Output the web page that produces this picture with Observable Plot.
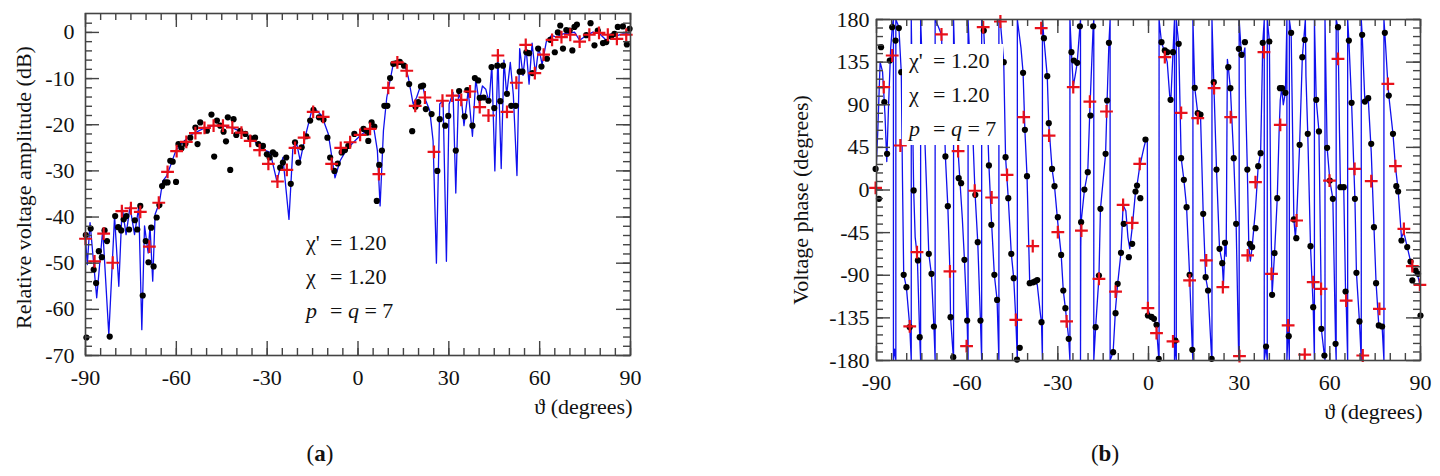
<!DOCTYPE html>
<html><head><meta charset="utf-8">
<script src="https://cdn.jsdelivr.net/npm/d3@7"></script>
<script src="https://cdn.jsdelivr.net/npm/@observablehq/plot@0.6"></script>
<style>
html,body{margin:0;padding:0;background:#fff;}
#wrap{position:relative;width:1440px;height:476px;overflow:hidden;font-family:"Liberation Serif",Tinos,"Times New Roman","DejaVu Serif",serif;color:#111;}
#wrap svg, #wrap svg text{font-family:"Liberation Serif",Tinos,"Times New Roman","DejaVu Serif",serif !important;}
.panel{position:absolute;top:0;}
.legend{position:absolute;font-size:22px;line-height:34px;background:#fff;white-space:nowrap;}
.legend .row{display:flex;}
.legend .k{display:inline-block;width:24px;}
.cap{position:absolute;font-size:23px;transform:translateX(-50%);}
</style></head>
<body><div id="wrap">
<div id="pa" class="panel" style="left:0"></div>
<div id="pb" class="panel" style="left:720px"></div>
<div class="legend" style="left:306px;top:226px;background:transparent">
  <div class="row"><span class="k">χ'</span><span>= 1.20</span></div>
  <div class="row"><span class="k">χ</span><span>= 1.20</span></div>
  <div class="row"><span class="k"><i>p</i></span><span>= <i>q</i> = 7</span></div>
</div>
<div class="legend" style="left:902px;top:44px;width:101px;height:101px;padding-left:7px;box-sizing:border-box;line-height:34px">
  <div class="row"><span class="k">χ'</span><span>= 1.20</span></div>
  <div class="row"><span class="k">χ</span><span>= 1.20</span></div>
  <div class="row"><span class="k"><i>p</i></span><span>= <i>q</i> = 7</span></div>
</div>
<div class="cap" style="left:320px;top:441px">(<b>a</b>)</div>
<div class="cap" style="left:1105px;top:441px">(<b>b</b>)</div>
</div>
<script>
// ---------- Panel (a): relative voltage amplitude (dB) ----------
const ampLine = [[-90.1,-43.8],[-89.4,-50.3],[-88.5,-41.2],[-86.3,-57.5],[-84.3,-42.7],[-82.3,-65.5],[-80.4,-39.8],[-79,-55],[-77.9,-37.8],[-76.6,-43.8],[-75.3,-37.8],[-73.8,-43.8],[-72.4,-37.8],[-71.4,-64.4],[-70.5,-41.9],[-69.3,-47.8],[-68.7,-41.9],[-67.8,-53.9],[-67,-39.4],[-65.6,-36.9],[-64.5,-32.2],[-63.2,-31.1],[-61.8,-28.6],[-60.1,-25.5],[-57.9,-23.8],[-54.6,-22],[-51.3,-20.9],[-48,-20.2],[-44.7,-20.2],[-41.4,-20.7],[-38.1,-21.7],[-34.8,-23.1],[-31.8,-25.3],[-29,-26],[-26.8,-32.2],[-24.8,-27.1],[-22.8,-40.5],[-21.5,-24.9],[-20.2,-24.2],[-19.1,-27.8],[-17.5,-22.8],[-15.3,-17],[-14.2,-16.6],[-12,-18],[-9.8,-22],[-7.6,-31.5],[-5.9,-27.8],[-3.7,-25.3],[-1.5,-23.8],[0.7,-22.4],[4,-20.6],[5.1,-20.2],[6.4,-25.6],[7.3,-37.6],[8.4,-21.3],[9.5,-14.1],[11.65,-6.8],[13.3,-6.1],[15.5,-7.2],[16.6,-9.7],[18.2,-15.5],[19.35,-14.1],[20.8,-11.3],[21.5,-11.9],[22.4,-14.8],[23.7,-16.9],[24.8,-23.5],[25.9,-50],[27,-15.5],[28.1,-14.8],[29.2,-49.6],[30.1,-15.5],[31.4,-13],[32.3,-34.8],[33.2,-13.3],[34.2,-14.8],[35,-20.2],[36.4,-12.6],[37.8,-22.5],[38.9,-10.1],[40,-15.2],[41.1,-11.6],[42.2,-12.3],[43.3,-15.2],[44.2,-7],[45.2,-30],[46.2,-5],[47.3,-29.5],[48.2,-6],[49.1,-13.5],[50.3,-6.5],[51.3,-13.5],[52.5,-31],[53.4,-3.5],[54.5,-9.3],[55.5,-3.2],[56.5,-11.2],[57.5,-2.3],[58.6,-9],[59.7,-3.2],[60.8,-7],[62.2,-2],[63.9,-0.65],[65.5,-1],[67.7,-0.3],[69.9,-0.16],[71.5,0.07],[73.2,-1.7],[75.4,-0.65],[77.6,0.07],[79.8,-0.3],[82,-1.7],[83.6,-0.3],[85.8,-0.65],[87.5,-0.3],[89.5,-0.3],[90,-0.5]];

const ampDots = [[-89.7,-66.1],[-89.9,-43.9],[-88.3,-42.5],[-87.3,-51.4],[-86.5,-54.3],[-85.6,-47.4],[-84.6,-48.7],[-83.7,-42.9],[-82.9,-45.2],[-82,-65.9],[-80.2,-39.8],[-79.2,-42.2],[-78.2,-42.9],[-77.4,-40.5],[-76.5,-39.8],[-75.6,-42.7],[-73.7,-40.7],[-72.9,-42.7],[-71.9,-37.6],[-71.1,-57],[-70.1,-45.2],[-69.2,-49.8],[-68.3,-42.3],[-67.5,-50.7],[-66.5,-40.1],[-65.6,-37.4],[-64.7,-33.3],[-63.7,-32.5],[-62.9,-32.5],[-62,-27.8],[-61.2,-28],[-60.1,-32.4],[-59.3,-24.2],[-58.3,-25.1],[-57,-24.1],[-55.4,-22.8],[-53.7,-20.6],[-53,-24.2],[-52.1,-19.5],[-49.9,-21.3],[-48.4,-17.8],[-47.5,-26.9],[-46.6,-19.1],[-45.5,-20.2],[-44.4,-21.5],[-43.6,-23.6],[-43,-18.4],[-42.2,-29.8],[-41.1,-18.8],[-40.2,-22.2],[-38.9,-21.3],[-37.2,-22],[-35.6,-22.9],[-34,-22.8],[-32.9,-24.2],[-31.4,-24.6],[-30.1,-26.4],[-29.2,-27.1],[-28.1,-26],[-27.3,-26.4],[-25.7,-29.3],[-24.8,-28.2],[-23.7,-27.1],[-22.2,-32.8],[-20.8,-23.8],[-19.7,-28.2],[-18.6,-24.9],[-17.1,-22.5],[-15.8,-19.1],[-14.7,-16.8],[-12.9,-18.4],[-11.4,-18.9],[-10.1,-22.8],[-9.2,-27.1],[-7.8,-30],[-6.7,-28.4],[-5.4,-26],[-4.3,-25.5],[-3.2,-24.6],[-1.2,-22],[1.8,-20.9],[3.1,-21.7],[3.4,-23.5],[4.5,-19.5],[5.4,-20.4],[6.2,-36.5],[7.0,-28.7],[7.9,-25.6],[8.7,-15.9],[9.7,-15.9],[10.6,-9.9],[11.65,-6.8],[12.5,-6.7],[13.8,-6.4],[15.2,-7.2],[16.9,-11.2],[17.9,-21.4],[19,-16.1],[19.9,-15.1],[20.8,-11.7],[21.5,-11.5],[22.4,-16.6],[24.3,-17.7],[26.2,-30],[27,-18.8],[28.8,-20.2],[29.8,-18.1],[32.3,-25.6],[33.4,-12.7],[35.2,-18.2],[36.1,-12.5],[37.8,-20.2],[38.6,-9.9],[39.7,-10.4],[40.2,-14.2],[41.5,-14.1],[43.1,-14.8],[44.1,-7.5],[45,-16.4],[46,-7.2],[47,-14.9],[47.9,-7.2],[49.2,-13.3],[50.6,-15.9],[52.1,-15.9],[53.4,-8.5],[54.3,-8.5],[55.6,-4.3],[56.5,-4.5],[57.6,-8.8],[59.5,-3.5],[60.6,-7.4],[62.4,-5.7],[63.5,-1.6],[65,-4.3],[66,0],[66.8,1.5],[67.7,-3.5],[68.8,0.5],[69.9,0.4],[70.8,-3.9],[71.5,1.2],[72.3,1.7],[75.4,-0.6],[76.8,2],[78.1,-2.8],[79.2,0.4],[80.9,-2.3],[82,-2.1],[83.6,-0.9],[84.7,-0.3],[85.8,1.2],[87.5,1.3],[88.8,-2.6],[89.7,0.8]];

const ampCross = [[-90,-44.7],[-87,-49.6],[-84,-43.6],[-81,-49.9],[-78,-38.7],[-75,-38.1],[-71.9,-38.9],[-68.9,-46.4],[-65.8,-36.9],[-62.9,-30.2],[-59.9,-25.7],[-56.7,-23.7],[-53.7,-21.8],[-50.7,-20.7],[-47.7,-20.2],[-44.6,-20.2],[-41.5,-20.6],[-38.5,-21.7],[-35.6,-23.5],[-32.5,-25.5],[-29.6,-28.5],[-26.6,-32.3],[-23.5,-29.8],[-20.8,-25],[-17.8,-22.8],[-14.8,-17.2],[-11.5,-18.3],[-8.7,-28.5],[-5.7,-25],[-2.6,-23.8],[0.7,-22.2],[4,-20.9],[6.9,-30.7],[10,-12],[13,-6.5],[16.1,-8.3],[18.9,-15.9],[22.1,-14.1],[25.1,-25.9],[27.9,-14.8],[31.1,-13.7],[34.1,-14.6],[37,-12.8],[40.2,-16.2],[43.1,-18],[46.2,-5],[49.2,-17.2],[52.3,-10.9],[55.4,-2.7],[58.4,-8.8],[61.3,-4.8],[64.1,-1.6],[67.2,-1],[70.1,-0.5],[73.2,-2],[76.4,-0.5],[79.6,-0.1],[82.5,-0.5],[85.5,-1.4],[88.6,-0.5]];

// ---------- Panel (b): voltage phase (degrees) ----------
const phaseLine = [[-90.5,-5],[-89.6,60],[-88.8,135],[-88,125],[-87.2,80],[-86.6,30],[-86,90],[-85.3,150],[-84.7,175],[-84.4,180],[-84.4,-180],[-84,-168],[-83.6,-180],[-83.6,180],[-82.6,172],[-81.8,124],[-81.4,10],[-81,-89],[-80.1,-103],[-79,-144],[-78.5,-180],
[-78.5,180],[-77.7,0],[-77.2,-50],[-76.5,-70],[-75.7,-155],[-75.4,-180],
[-75.4,180],[-73.3,-10],[-72.7,-67],[-71.8,-90],[-71,-144],[-70.6,-180],
[-70.6,180],[-69.5,172],[-68.5,164],[-67.8,100],[-67.2,35],[-66.4,-17],[-65.7,-86],[-65.5,-134],[-64.6,-176],[-64.5,-180],
[-64.5,180],[-63.8,100],[-63,41],[-62.4,10],[-61.6,-30],[-60.9,-74],[-60,-140],[-59.7,-180],
[-59.7,180],[-58.5,90],[-57.4,-3],[-56.5,-55],[-55.6,-138],[-55.2,-180],
[-55.2,180],[-54.5,168],[-53.6,100],[-52.8,26],[-52,-30],[-51,-90],[-50.1,-116],[-49.5,-180],
[-49.5,180],[-49,177],[-47.9,135],[-47.3,35],[-46.4,-9],[-45.4,-67],[-44.6,-93],[-43.9,-137],[-43.4,-180],
[-43.4,180],[-42.2,150],[-41.5,124],[-40.9,63],[-40.2,15],[-39.3,-98],[-38.5,-97],[-37.5,-97],[-36.8,-100],[-35.8,-130],[-35.4,-140],[-35.1,-180],
[-35.1,180],[-34.6,160],[-33.5,120],[-33,70],[-31.9,22],[-31.1,4],[-30,-35],[-28.9,-68],[-28.2,-106],[-27.5,-125],[-26.4,-157],[-26,-180],
[-26,180],[-25.5,145],[-24.9,110],[-24.3,120],[-23.6,134],[-22.7,173],[-22.5,180],
[-22.5,-180],[-22.4,-60],[-22.3,-34],[-21.2,0],[-20.1,19],[-19.4,85],[-18.3,173],[-18.1,180],
[-18.1,-180],[-17.5,-145],[-16.4,-92],[-15.9,-20],[-14.2,38],[-13.7,94],[-13.1,155],[-12.7,180],
[-12.7,-180],[-11.7,-171],[-10.9,-125],[-10.2,-99],[-9.1,-66],[-8.4,-16],[-7.5,-22],[-6.8,-50],[-6.2,-62],[-5.4,-40],[-4.3,-2],[-3.8,5],[-2.9,25],[-1.5,45],[-0.7,55],[-0.4,53],
[-0.2,-125],[0.5,-133],[1.8,-135],[2.65,-145],[3.4,-178],[3.5,-180],
[3.5,180],[4.3,156],[5.4,145],[6.2,135],[7,100],[7.4,95],[8.1,145],[8.6,180],
[8.6,-180],[8.9,-160],[9.2,-180],
[9.2,180],[10,154],[10.8,34],[11.7,11],[12.6,-18],[13.6,-90],[14.5,-169],[14.7,-180],
[14.7,180],[15.3,108],[16.3,81],[17.2,80],[18.1,-25],[18.9,-92],[19.7,-106],[20.9,-178],[21,-180],
[21,180],[21.6,114],[22.5,22],[23.5,-62],[24.4,-77],[24.8,-100],[25.3,-56],[25.7,-70],[26.1,138],[26.4,130],[27.1,107],[28.2,34],[29,-36],[29.8,-170],[30,-180],
[30,180],[30.6,150],[31.2,140],[31.9,150],[32.1,100],[32.7,22],[33.2,-60],[33.7,-75],[34.3,-60],[35.4,-20],[36.3,25],[37.1,39],[37.6,120],[37.8,155],[38.3,180],
[38.3,-180],[38.9,-165],[39.3,-180],
[39.3,180],[40,157],[40.4,0],[40.9,-111],[41.7,-67],[42.6,-9],[43.2,60],[43.6,95],[44.1,108],[44.6,90],[45.3,103],[45.8,180],
[45.8,-180],[46.2,-145],[46.4,-154],[46.6,-180],
[46.6,180],[47.2,166],[48.1,-31],[48.6,-50],[49,-32],[50,48],[50.9,140],[51.7,172],[51.9,180],[52.1,120],[52.7,59],[53.6,-59],[54.5,-124],[54.9,-180],
[54.9,180],[55.5,95],[56.4,62],[57.1,-104],[57.2,-147],[58.2,-175],[58.4,-180],
[58.4,180],[59.1,45],[60,10],[61,-9],[61.9,-162],[62.1,-180],
[62.1,180],[62.7,172],[63.2,60],[63.5,3],[64.6,3],[65.2,-107],[65.4,-117],[65.9,-180],
[65.9,180],[66.3,158],[67.2,92],[68.3,-9],[68.8,-87],[69.8,-139],[70.4,-180],
[70.4,180],[70.7,164],[71.6,93],[72.7,97],[73.7,40],[74.6,-39],[75.3,-98],[76.2,-143],[77.3,-144],[77.9,-180],
[77.9,180],[78.2,166],[79.2,112],[79.5,100],[80.9,59],[81.7,25],[82.6,0],[83.7,-50],[84.5,-45],[85.6,-60],[86.7,-75],[87.3,-85],[88.4,-88],[89.2,-92],[89.8,-100],[90.2,-112]];

const phaseDots = [[-90.3,22.3],[-89.2,-9.3],[-88.5,150.8],[-87.4,92.7],[-86.5,38.2],[-85.6,136.7],[-84.8,171.9],[-83.7,157.8],[-82.6,170.9],[-81.8,124.4],[-81,-89.6],[-80.1,-102.6],[-79,-144.8],[-77.7,-0.5],[-76.3,-74.4],[-75.7,-155.4],[-72.7,-67.4],[-71.8,-88.5],[-71,-144.1],[-67.2,35.4],[-66.4,-17.1],[-65.5,-134.3],[-64.6,-176.5],[-62.8,12.5],[-62,7.2],[-60.9,-73.7],[-60,-137.8],[-57.3,-5.1],[-56.5,-55.1],[-55.6,-137.8],[-54.5,168.4],[-52.8,25.9],[-52,-36.8],[-51,-89.6],[-50.1,-116],[-47.9,134.9],[-47.3,34.7],[-46.4,-8.6],[-45.4,-67.4],[-44.6,-93.1],[-43.5,-179],[-42.6,-166.6],[-41.5,123.7],[-40.9,63.5],[-40.2,14.6],[-39.3,-98.4],[-38.2,-97.5],[-37.5,-96.5],[-36.8,-95],[-35.4,-139.5],[-34.6,160.3],[-33.5,120.2],[-33,70.6],[-31.9,22.3],[-31.1,4],[-30,-28.7],[-28.9,-68.5],[-28.2,-106.1],[-27.5,-124.8],[-26.4,-157.1],[-25.5,145.5],[-24.7,136.7],[-23.6,134.3],[-22.7,172.9],[-22.3,-34],[-21.2,0.5],[-20.1,18.8],[-19.2,78.6],[-18.3,172.9],[-17.5,-144.8],[-16.4,-90.3],[-15.9,-19.9],[-14.2,38.2],[-13.7,94.5],[-13.1,155.4],[-11.7,-171.2],[-10.9,-130],[-10.2,-99.1],[-9.1,-66.3],[-8.2,-35.7],[-6.5,-70.9],[-5.4,-56.8],[-4.3,-1.6],[-3.8,4.7],[-2.7,-8.6],[-1,53.3],[-0.2,-132.5],[1,-134],[1.8,-136],[2.65,-142.3],[3.4,-178.2],[4.3,156.1],[5.4,147.3],[6.2,145.5],[7.3,95.2],[8.1,145.5],[8.9,-158.9],[10,154.3],[10.8,33.6],[11.7,10.7],[12.6,-18.1],[13.6,-89.6],[14.5,-168.7],[15.3,107.9],[16.3,81.1],[17.2,79.7],[18.1,-25.2],[18.9,-92],[19.7,-106.1],[20.9,-178.2],[21.6,113.8],[22.5,21.6],[23.5,-62.1],[24.4,-77.2],[25.3,-55.8],[26.4,129.7],[27.1,107.5],[28.2,33.6],[29,-35.7],[29.9,149],[30.8,142.7],[31.9,156.1],[32.7,21.6],[33.5,-56.8],[34.3,-60.3],[35.4,-40.3],[36.3,25.1],[37.1,38.9],[37.8,155.4],[38.9,-165.2],[40,156.8],[40.9,-110.7],[41.7,-66.7],[42.6,-8.6],[43.5,107.5],[44.2,107.5],[45.3,102.6],[46.4,-154.3],[47.2,165.9],[48.1,-31.1],[48.9,-50.9],[50,47.7],[50.9,140.2],[51.7,158.5],[52.7,59.3],[53.6,-59.3],[54.5,-123.7],[55.5,95.2],[56.4,61.8],[57.2,-146.6],[58.2,-174.7],[59.1,44.5],[60,10],[61,-9.3],[61.9,-162.4],[62.7,171.9],[63.5,3],[64.6,3],[65.2,-107.2],[66.3,157.8],[67.2,92],[68.3,-9.3],[68.8,-87.4],[69.8,-138.8],[70.7,163.8],[71.6,93.4],[72.7,96.9],[73.7,48.7],[74.6,-39.2],[75.3,-98.4],[76.2,-143],[77.3,-144.1],[78.2,165.9],[79.5,99.7],[80.9,59.3],[82,4],[82.6,-1.6],[83.7,-53.3],[85.6,-60.3],[86.7,-75.5],[87.3,-95.5],[88.4,-85],[89.2,-88.5],[90,-132.5]];

const phaseCross = [[-90.3,2.3],[-87.6,108.6],[-84.8,142],[-82.1,47],[-79,-144],[-76.6,-65.6],[-68.5,164.2],[-65.7,-86],[-63,41],[-60.2,-164.9],[-57.5,-0.8],[-54.7,171.9],[-51.9,-7.9],[-49,177.9],[-46.8,16],[-43.9,-137.1],[-41.3,76.9],[-38.3,-59.3],[-35.5,170.9],[-32.9,57.5],[-30,-44.5],[-27.1,-138.8],[-24.9,108.6],[-22.2,-42.8],[-19.4,93.4],[-16.4,-93.8],[-13.9,82.9],[-10.9,-107.2],[-8.4,-15.7],[-5.4,-34.7],[-2.9,27.6],[-0.2,-124.7],[2.65,-151.2],[5.4,140.2],[8.1,-159.9],[10.8,81.5],[13.6,-95.5],[16.3,75.8],[19.1,-74.4],[21.7,107.5],[24.6,-102.6],[27.2,76.9],[30.1,-175.4],[32.8,-69.1],[35.4,8.3],[38.2,145.5],[40.7,-88.5],[43.6,68.8],[46.2,-143],[49,-32.2],[51.7,-173.7],[54.5,-97.3],[57.1,-104.3],[59.9,10],[62.7,138.5],[65.4,-116.7],[68.2,22.3],[70.9,-174.7],[73.7,9.3],[76.4,-125.5],[79.2,112.1],[81.7,25.1],[84.5,-41],[87.3,-80.4],[89.8,-100.1]];

// ---------- Axes ----------
const thetaTicks = [-90,-60,-30,0,30,60,90];
const thetaMinor = d3.range(-90, 91, 5);
const ampTicks = [0,-10,-20,-30,-40,-50,-60,-70];
const ampMinor = d3.range(-70, 4, 2);
const phaseTicks = [180,135,90,45,0,-45,-90,-135,-180];
const phaseMinor = d3.range(-180, 181, 9);
const xTitle = "ϑ (degrees)";
const ampTitle = "Relative voltage amplitude (dB)";
const phaseTitle = "Voltage phase (degrees)";

const axisColor = "#444";
const FONT = '"Liberation Serif", Tinos, "Times New Roman", "DejaVu Serif", serif';

function panel(o) {
  const iw = o.width - o.mL - o.mR, ih = o.height - o.mT - o.mB;
  const kx = (o.xDom[1] - o.xDom[0]) / iw, ky = (o.yDom[1] - o.yDom[0]) / ih;
  const xr = (vals, len) => [
    Plot.ruleX(vals, {x: d => d, y1: o.yDom[0], y2: o.yDom[0] + len * ky, stroke: axisColor, strokeWidth: 1.4}),
    Plot.ruleX(vals, {x: d => d, y1: o.yDom[1], y2: o.yDom[1] - len * ky, stroke: axisColor, strokeWidth: 1.4})
  ];
  const yr = (vals, len) => [
    Plot.ruleY(vals, {y: d => d, x1: o.xDom[0], x2: o.xDom[0] + len * kx, stroke: axisColor, strokeWidth: 1.4}),
    Plot.ruleY(vals, {y: d => d, x1: o.xDom[1], x2: o.xDom[1] - len * kx, stroke: axisColor, strokeWidth: 1.4})
  ];
  return Plot.plot({
    width: o.width, height: o.height,
    marginLeft: o.mL, marginRight: o.mR, marginTop: o.mT, marginBottom: o.mB,
    x: {domain: o.xDom, label: null},
    y: {domain: o.yDom, label: null},
    style: {fontFamily: FONT, fontSize: "22px", color: "#111", background: "transparent", overflow: "visible"},
    marks: [
      Plot.line(o.line, {x: d => d[0], y: d => d[1], stroke: "#1010ee", strokeWidth: 1.3, clip: true}),
      Plot.dot(o.dots, {x: d => d[0], y: d => d[1], r: 3.1, fill: "#000", stroke: "none"}),
      Plot.dot(o.cross, {x: d => d[0], y: d => d[1], symbol: "plus", r: 4.2, stroke: "#e8101a", strokeWidth: 2.2}),
      ...xr(thetaMinor, 7), ...xr(thetaTicks, 14),
      ...yr(o.yMinor, 7), ...yr(o.yTicks, 14),
      Plot.frame({stroke: axisColor, strokeWidth: 1.6}),
      Plot.axisX({ticks: thetaTicks, tickSize: 0, tickPadding: 14, tickFormat: d => String(d), label: null, fontSize: 22}),
      Plot.axisY({ticks: o.yTicks, tickSize: 0, tickPadding: o.yPad, tickFormat: d => String(d), label: null, fontSize: 22}),
      Plot.text([xTitle], {frameAnchor: "bottom-right", text: d => d, textAnchor: "end", lineAnchor: "middle", dy: 51, dx: 2, fontSize: 22}),
      Plot.text([o.yTitle], {frameAnchor: "left", text: d => d, rotate: -90, textAnchor: "middle", lineAnchor: "middle", dx: o.yTitleDx, dy: o.yTitleDy, fontSize: 22})
    ]
  });
}

document.getElementById("pa").append(panel({
  width: 720, height: 420, mL: 85, mR: 90, mT: 13, mB: 65,
  xDom: [-90, 90], yDom: [-70, 4.1],
  line: ampLine, dots: ampDots, cross: ampCross,
  yTicks: ampTicks, yMinor: ampMinor, yPad: 11,
  yTitle: ampTitle, yTitleDx: -62, yTitleDy: 3
}));
document.getElementById("pb").append(panel({
  width: 720, height: 420, mL: 156, mR: 20, mT: 19, mB: 60,
  xDom: [-90, 90], yDom: [-180, 180],
  line: phaseLine, dots: phaseDots, cross: phaseCross,
  yTicks: phaseTicks, yMinor: phaseMinor, yPad: 7,
  yTitle: phaseTitle, yTitleDx: -76, yTitleDy: 10
}));
</script>
</body></html>
